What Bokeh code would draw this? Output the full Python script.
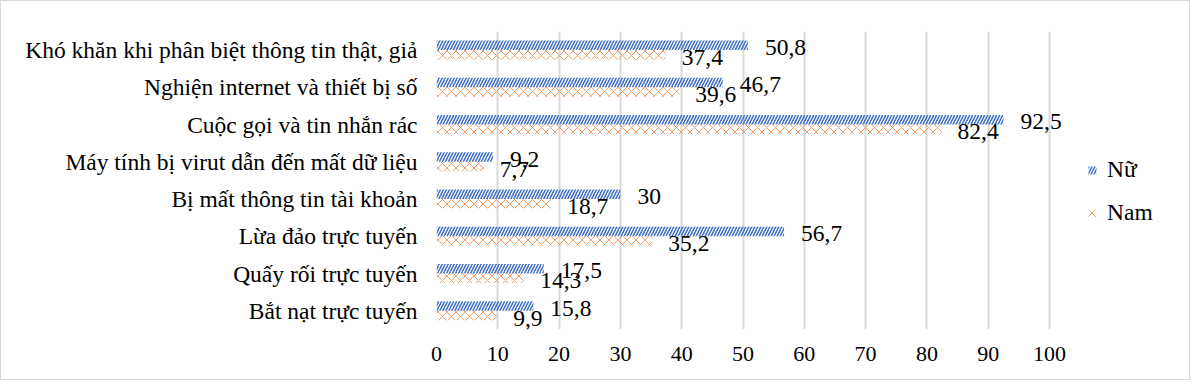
from bokeh.plotting import figure
from bokeh.models import ColumnDataSource, FactorRange, Range1d, Legend, LegendItem, FixedTicker
from bokeh.transform import dodge
from bokeh.core.properties import value
from bokeh.embed import file_html
from bokeh.resources import INLINE

categories = [
    "Khó khăn khi phân biệt thông tin thật, giả",
    "Nghiện internet và thiết bị số",
    "Cuộc gọi và tin nhắn rác",
    "Máy tính bị virut dẫn đến mất dữ liệu",
    "Bị mất thông tin tài khoản",
    "Lừa đảo trực tuyến",
    "Quấy rối trực tuyến",
    "Bắt nạt trực tuyến",
]
nu = [50.8, 46.7, 92.5, 9.2, 30, 56.7, 17.5, 15.8]
nam = [37.4, 39.6, 82.4, 7.7, 18.7, 35.2, 14.3, 9.9]
x_ticks = [0, 10, 20, 30, 40, 50, 60, 70, 80, 90, 100]

def fmt(v):
    return f"{v:g}".replace(".", ",")

src = ColumnDataSource(dict(
    cat=categories, nu=nu, nam=nam,
    nu_lbl=[fmt(v) for v in nu], nam_lbl=[fmt(v) for v in nam],
))

FONT = "Liberation Serif"

W, H = 1190, 380
ML, MR, MT, MB = 435, 8, 30, 52
frame_w = W - ML - MR
x_end = 100 * frame_w / 613.0

p = figure(
    width=W, height=H,
    y_range=FactorRange(*categories[::-1]),
    x_range=Range1d(0, x_end),
    output_backend="svg", toolbar_location=None,
    min_border_left=ML, min_border_right=MR, min_border_top=MT, min_border_bottom=MB,
)
p.styles = {"border": "1px solid #d9d9d9"}
p.outline_line_color = None

r_nu = p.hbar(y=dodge("cat", 0.13, range=p.y_range), right="nu", left=0, height=0.255, source=src,
              fill_color=None, line_color=None,
              hatch_pattern="/", hatch_color="#4472C4", hatch_scale=6, hatch_weight=1.6)
r_nam = p.hbar(y=dodge("cat", -0.125, range=p.y_range), right="nam", left=0, height=0.255, source=src,
               fill_color=None, line_color=None,
               hatch_pattern="x", hatch_color="#ED7D31", hatch_alpha=0.75, hatch_scale=9, hatch_weight=1)

p.text(x="nu", y=dodge("cat", 0.13, range=p.y_range), text="nu_lbl", source=src,
       x_offset=17, y_offset=2, text_align="left", text_baseline="middle",
       text_font=value(FONT), text_font_size="23.5px", text_color="#000000")
p.text(x="nam", y=dodge("cat", -0.125, range=p.y_range), text="nam_lbl", source=src,
       x_offset=16, y_offset=2.5, text_align="left", text_baseline="middle",
       text_font=value(FONT), text_font_size="23.5px", text_color="#000000")

p.xaxis.ticker = FixedTicker(ticks=x_ticks)
for ax in (p.xaxis[0], p.yaxis[0]):
    ax.axis_line_color = None
    ax.major_tick_line_color = None
    ax.minor_tick_line_color = None
    ax.major_label_text_font = FONT
    ax.major_label_text_color = "#000000"
p.xaxis.major_label_text_font_size = "22px"
p.yaxis.major_label_text_font_size = "23.5px"
p.xaxis.major_label_standoff = 11
p.yaxis.major_label_standoff = 13

p.ygrid.grid_line_color = None
p.xgrid.grid_line_color = "#d9d9d9"
p.xgrid.grid_line_width = 2

legend = Legend(items=[LegendItem(label="Nữ", renderers=[r_nu]), LegendItem(label="Nam", renderers=[r_nam])],
                location=(651, 103), orientation="vertical",
                padding=0, margin=0, border_line_color=None, background_fill_alpha=0,
                glyph_width=10, glyph_height=10, label_height=24, spacing=16, label_standoff=10,
                label_text_font=FONT, label_text_font_size="23.5px", label_text_color="#000000")
p.add_layout(legend, "center")

open("out.html", "w").write(file_html(p, INLINE))
